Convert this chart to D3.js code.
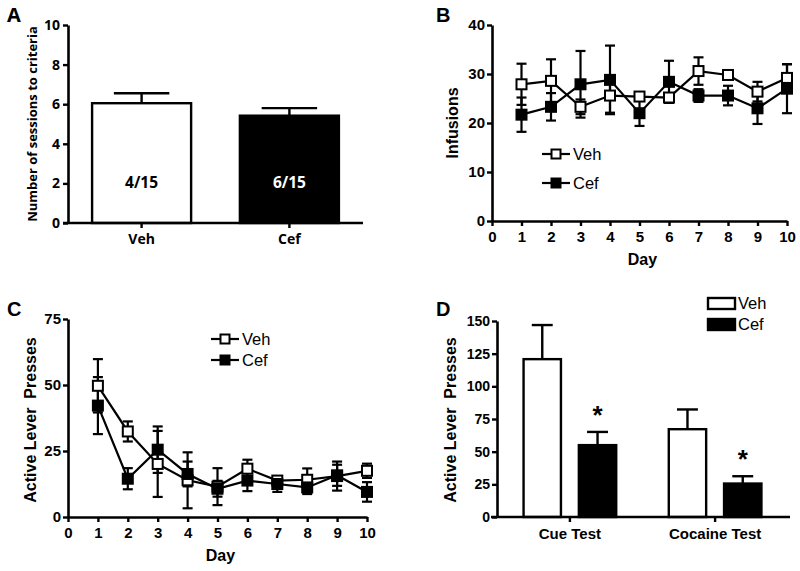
<!DOCTYPE html>
<html><head><meta charset="utf-8">
<script src="https://cdn.jsdelivr.net/npm/d3@7"></script>
<style>
html,body{margin:0;padding:0;background:#fff;}
svg{display:block;}
</style></head>
<body>
<svg id="chart" width="800" height="571"></svg>
<script>
// ---------- DATA ----------
const groupsA = ["Veh", "Cef"];
const sessionsA = [6.05, 5.42];
const sessionsErrA = [0.5, 0.38];
const ratioLabelsA = ["4/15", "6/15"];
const ticksA = [0, 2, 4, 6, 8, 10];

const days = [1, 2, 3, 4, 5, 6, 7, 8, 9, 10];
const dayTicks = [0, 1, 2, 3, 4, 5, 6, 7, 8, 9, 10];

const vehInfusions = [27.9, 28.6, 23.3, 25.6, 25.4, 25.2, 30.6, 29.8, 26.4, 29.2];
const vehInfusionsErr = [4.2, 4.4, 1.5, 3.5, 0.6, 0.8, 2.8, 0.6, 2.0, 2.8];
const cefInfusions = [21.7, 23.3, 27.9, 28.8, 22.0, 28.4, 25.6, 25.6, 23.0, 27.0];
const cefInfusionsErr = [3.5, 2.8, 6.8, 7.0, 2.6, 4.3, 1.3, 2.0, 3.2, 5.0];
const ticksB = [0, 10, 20, 30, 40];

const vehLever = [49.7, 32.4, 20.1, 13.9, 11.5, 18.3, 13.8, 14.1, 15.5, 17.5];
const vehLeverErr = [10.1, 3.8, 12.5, 10.6, 7.0, 3.4, 1.0, 4.3, 5.5, 2.7];
const cefLever = [42.2, 14.5, 25.5, 16.3, 10.7, 13.8, 12.5, 11.2, 15.8, 9.5];
const cefLeverErr = [10.8, 4.0, 8.8, 4.7, 3.0, 4.0, 3.0, 2.5, 4.0, 3.7];
const ticksC = [0, 25, 50, 75];

const testsD = ["Cue Test", "Cocaine Test"];
const vehTest = [120.8, 67.2];
const vehTestErr = [26.1, 15.1];
const cefTest = [55.0, 25.6];
const cefTestErr = [10.1, 5.6];
const ticksD = [0, 25, 50, 75, 100, 125, 150];

// ---------- HELPERS ----------
const svg = d3.select("#chart");
const ARIAL = "'Liberation Sans', Arial, Helvetica, sans-serif";
const OPEN = "'Open Sans', 'Liberation Sans', sans-serif";

function styleAxis(g, font, size) {
  g.selectAll("path.domain").attr("stroke", "#000").attr("stroke-width", 2.6);
  g.selectAll(".tick line").attr("stroke", "#000").attr("stroke-width", 2.4);
  g.selectAll(".tick text").attr("fill", "#000")
    .style("font-family", font).style("font-size", size + "px").style("font-weight", "bold");
}

function panelLabel(t, x, y, font) {
  svg.append("text").attr("x", x).attr("y", y).text(t)
    .style("font-family", font).style("font-size", "20px").style("font-weight", "bold");
}

function yTitle(t, x, yc, font, size) {
  svg.append("text").attr("transform", `translate(${x},${yc}) rotate(-90)`)
    .attr("text-anchor", "middle").attr("dominant-baseline", "central").text(t)
    .style("font-family", font).style("font-size", size + "px").style("font-weight", "bold")
    .attr("xml:space", "preserve").style("white-space", "pre");
}

// ---------- PANEL A ----------
(function () {
  const x = d3.scaleBand().domain(groupsA).range([68, 363]).paddingInner(0.33).paddingOuter(0.163);
  const y = d3.scaleLinear().domain([0, 10]).range([223, 25]);
  const g = svg.append("g");
  const rows = groupsA.map((k, i) => ({ k, v: sessionsA[i], e: sessionsErrA[i], lab: ratioLabelsA[i] }));
  rows.forEach(d => {
    const cx = x(d.k) + x.bandwidth() / 2;
    const cw = x.bandwidth() * 0.28;
    g.append("line").attr("x1", cx).attr("x2", cx).attr("y1", y(d.v)).attr("y2", y(d.v + d.e))
      .attr("stroke", "#000").attr("stroke-width", 2.4);
    g.append("line").attr("x1", cx - cw).attr("x2", cx + cw).attr("y1", y(d.v + d.e)).attr("y2", y(d.v + d.e))
      .attr("stroke", "#000").attr("stroke-width", 2.4);
  });
  g.selectAll("rect.bar").data(rows).join("rect")
    .attr("x", d => x(d.k)).attr("width", x.bandwidth())
    .attr("y", d => y(d.v)).attr("height", d => y(0) - y(d.v))
    .attr("fill", (d, i) => i === 0 ? "#fff" : "#000").attr("stroke", "#000").attr("stroke-width", 2.4);
  g.selectAll("text.rl").data(rows).join("text")
    .attr("x", d => x(d.k) + x.bandwidth() / 2).attr("y", 188).attr("text-anchor", "middle")
    .attr("fill", (d, i) => i === 0 ? "#000" : "#fff").text(d => d.lab)
    .style("font-family", OPEN).style("font-size", "15.5px").style("font-weight", "bold");
  const ax = svg.append("g").attr("transform", `translate(68,0)`)
    .call(d3.axisLeft(y).tickValues(ticksA).tickSize(5).tickSizeOuter(0).tickPadding(3));
  styleAxis(ax, OPEN, 14);
  const bx = svg.append("g").attr("transform", `translate(0,223)`)
    .call(d3.axisBottom(x).tickSize(5).tickSizeOuter(0).tickPadding(6));
  styleAxis(bx, OPEN, 14);
  bx.select("path.domain").attr("d", "M63,0H363");
  yTitle("Number of sessions to criteria", 32, 124, OPEN, 13);
  panelLabel("A", 7, 22, OPEN);
})();

// ---------- LINE PANELS ----------
function linePanel(opt) {
  const x = d3.scaleLinear().domain([0, 10]).range([opt.x0, opt.x1]);
  const y = d3.scaleLinear().domain([0, opt.ymax]).range([opt.yb, opt.yt]);
  const g = svg.append("g");
  const series = [
    { v: opt.veh, e: opt.vehErr, fill: "#fff" },
    { v: opt.cef, e: opt.cefErr, fill: "#000" }
  ];
  const line = d3.line().x((d, i) => x(days[i])).y(d => y(d));
  series.forEach(s => {
    g.append("path").attr("d", line(s.v)).attr("fill", "none").attr("stroke", "#000").attr("stroke-width", 2.2);
  });
  series.forEach(s => {
    s.v.forEach((v, i) => {
      const cx = x(days[i]);
      g.append("line").attr("x1", cx).attr("x2", cx).attr("y1", y(v - s.e[i])).attr("y2", y(v + s.e[i]))
        .attr("stroke", "#000").attr("stroke-width", 2.2);
      [v - s.e[i], v + s.e[i]].forEach(w => {
        g.append("line").attr("x1", cx - 5).attr("x2", cx + 5).attr("y1", y(w)).attr("y2", y(w))
          .attr("stroke", "#000").attr("stroke-width", 2.2);
      });
    });
  });
  series.forEach(s => {
    g.selectAll(null).data(s.v).join("rect")
      .attr("x", (d, i) => x(days[i]) - 5).attr("y", d => y(d) - 5)
      .attr("width", 10).attr("height", 10)
      .attr("fill", s.fill).attr("stroke", "#000").attr("stroke-width", 2);
  });
  const ax = svg.append("g").attr("transform", `translate(${opt.x0},0)`)
    .call(d3.axisLeft(y).tickValues(opt.ticks).tickSize(5).tickSizeOuter(0).tickPadding(2));
  styleAxis(ax, ARIAL, 15);
  const bx = svg.append("g").attr("transform", `translate(0,${opt.yb})`)
    .call(d3.axisBottom(x).tickValues(dayTicks).tickSize(5).tickSizeOuter(0).tickPadding(5).tickFormat(d3.format("d")));
  styleAxis(bx, ARIAL, 15);
  svg.append("text").attr("x", (opt.x0 + opt.x1) / 2 + 3).attr("y", opt.yb + 44).attr("text-anchor", "middle").text("Day")
    .style("font-family", ARIAL).style("font-size", "16px").style("font-weight", "bold");
  const lg = svg.append("g");
  series.forEach((s, i) => {
    const ly = opt.legY + i * opt.legDy;
    lg.append("line").attr("x1", opt.legX).attr("x2", opt.legX + 28).attr("y1", ly).attr("y2", ly)
      .attr("stroke", "#000").attr("stroke-width", 2.2);
    lg.append("rect").attr("x", opt.legX + 14 - 4.5).attr("y", ly - 4.5).attr("width", 9).attr("height", 9)
      .attr("fill", s.fill).attr("stroke", "#000").attr("stroke-width", 2);
    lg.append("text").attr("x", opt.legX + 31).attr("y", ly + 6).text(i === 0 ? "Veh" : "Cef")
      .style("font-family", ARIAL).style("font-size", "16.5px");
  });
}

linePanel({ x0: 492, x1: 787, yb: 221, yt: 25, ymax: 40, ticks: ticksB,
  veh: vehInfusions, vehErr: vehInfusionsErr, cef: cefInfusions, cefErr: cefInfusionsErr,
  legX: 542, legY: 154, legDy: 29 });
yTitle("Infusions", 452, 123, ARIAL, 16);
panelLabel("B", 436, 22, ARIAL);

linePanel({ x0: 68, x1: 367, yb: 517, yt: 319, ymax: 75, ticks: ticksC,
  veh: vehLever, vehErr: vehLeverErr, cef: cefLever, cefErr: cefLeverErr,
  legX: 211, legY: 339, legDy: 21 });
yTitle("Active Lever  Presses", 30, 420, ARIAL, 16);
panelLabel("C", 7, 316, ARIAL);

// ---------- PANEL D ----------
(function () {
  const x0 = d3.scaleBand().domain(testsD).range([497, 788]).paddingInner(0.362).paddingOuter(0.183);
  const x1 = d3.scaleBand().domain(["Veh", "Cef"]).range([0, x0.bandwidth()]).paddingInner(0.324);
  const y = d3.scaleLinear().domain([0, 150]).range([517, 321]);
  const g = svg.append("g");
  const rows = [];
  testsD.forEach((t, i) => {
    rows.push({ t, k: "Veh", v: vehTest[i], e: vehTestErr[i], fill: "#fff" });
    rows.push({ t, k: "Cef", v: cefTest[i], e: cefTestErr[i], fill: "#000", star: true });
  });
  rows.forEach(d => {
    const cx = x0(d.t) + x1(d.k) + x1.bandwidth() / 2;
    const cw = x1.bandwidth() * 0.28;
    g.append("line").attr("x1", cx).attr("x2", cx).attr("y1", y(d.v)).attr("y2", y(d.v + d.e))
      .attr("stroke", "#000").attr("stroke-width", 2.4);
    g.append("line").attr("x1", cx - cw).attr("x2", cx + cw).attr("y1", y(d.v + d.e)).attr("y2", y(d.v + d.e))
      .attr("stroke", "#000").attr("stroke-width", 2.4);
    if (d.star) {
      g.append("text").attr("x", cx).attr("y", y(d.v + d.e) - 8).attr("text-anchor", "middle").text("*")
        .style("font-family", ARIAL).style("font-size", "26px").style("font-weight", "bold");
    }
  });
  g.selectAll("rect.bar").data(rows).join("rect")
    .attr("x", d => x0(d.t) + x1(d.k)).attr("width", x1.bandwidth())
    .attr("y", d => y(d.v)).attr("height", d => y(0) - y(d.v))
    .attr("fill", d => d.fill).attr("stroke", "#000").attr("stroke-width", 2.4);
  const ax = svg.append("g").attr("transform", `translate(497,0)`)
    .call(d3.axisLeft(y).tickValues(ticksD).tickSize(5).tickSizeOuter(0).tickPadding(2));
  styleAxis(ax, ARIAL, 14);
  const bx = svg.append("g").attr("transform", `translate(0,517)`)
    .call(d3.axisBottom(x0).tickSize(5).tickSizeOuter(0).tickPadding(6));
  styleAxis(bx, ARIAL, 15);
  bx.select("path.domain").attr("d", "M491,0H790");
  yTitle("Active Lever  Presses", 450, 420, ARIAL, 16);
  panelLabel("D", 436, 316, ARIAL);
  const lg = svg.append("g");
  [{ k: "Veh", fill: "#fff" }, { k: "Cef", fill: "#000" }].forEach((s, i) => {
    const ly = 298 + i * 21;
    lg.append("rect").attr("x", 708).attr("y", ly).attr("width", 27).attr("height", 11)
      .attr("fill", s.fill).attr("stroke", "#000").attr("stroke-width", 2.4);
    lg.append("text").attr("x", 738).attr("y", ly + 11).text(s.k)
      .style("font-family", ARIAL).style("font-size", "16.5px");
  });
})();
</script>
</body></html>
